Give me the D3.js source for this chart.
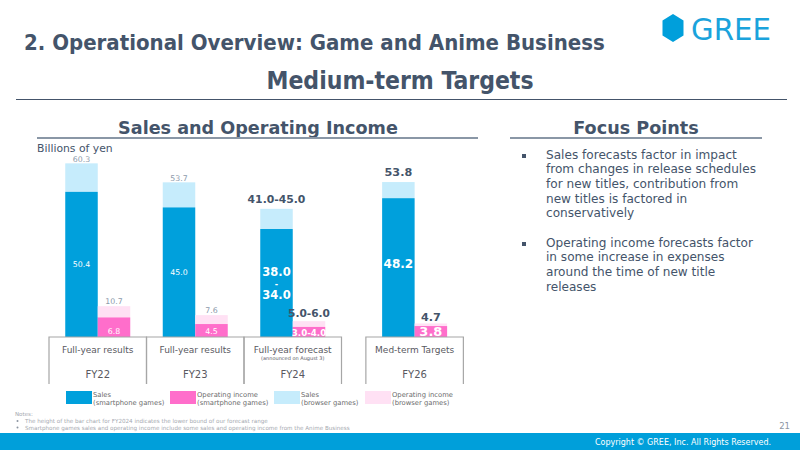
<!DOCTYPE html>
<html>
<head>
<meta charset="utf-8">
<script src="https://cdn.jsdelivr.net/npm/d3@7"></script>
<style>
  body { margin: 0; background: #fff; }
  svg { display: block; font-family: "DejaVu Sans", Verdana, sans-serif; }
</style>
</head>
<body>
<svg id="chart" width="800" height="450"></svg>
<script>
// chart data
var categories = ['FY22', 'FY23', 'FY24', 'FY26'];
var periodLabels = ['Full-year results', 'Full-year results', 'Full-year forecast', 'Med-term Targets'];
var periodNotes = ['', '', '(announced on August 3)', ''];
var salesPhone = [50.4, 45.0, 37.5, 48.2];
var salesBrowser = [9.9, 8.7, 7.0, 5.6];
var incomePhone = [6.8, 4.5, 3.5, 3.8];
var incomeBrowser = [3.9, 3.1, 2.0, 0.9];
var salesTotalLabels = ['60.3', '53.7', '41.0-45.0', '53.8'];
var salesPhoneLabels = [['50.4'], ['45.0'], ['38.0', '-', '34.0'], ['48.2']];
var incomeTotalLabels = ['10.7', '7.6', '5.0-6.0', '4.7'];
var incomePhoneLabels = ['6.8', '4.5', '3.0-4.0', '3.8'];
var legendItems = [
    ['Sales', '(smartphone games)'],
    ['Operating income', '(smartphone games)'],
    ['Sales', '(browser games)'],
    ['Operating income', '(browser games)']
];
var focusPoints = [
    ['Sales forecasts factor in impact', 'from changes in release schedules', 'for new titles, contribution from', 'new titles is factored in', 'conservatively'],
    ['Operating income forecasts factor', 'in some  increase in expenses', 'around the time of new title', 'releases']
];
var notes = [
    'The height of the bar chart for FY2024 indicates the lower bound of our forecast range',
    'Smartphone games sales and operating income include some sales and operating income from the Anime Business'
];

var colors = {
    salesPhone: '#00a0dc',
    salesBrowser: '#c6ecfc',
    incomePhone: '#ff6ecb',
    incomeBrowser: '#ffe1f4',
    dark: '#44546a',
    grey: '#8c9aab'
};

var svg = d3.select('#chart');
var baseY = 337;
var cellW = 97.5; // width of each period cell
var barW = 32.5;

// the medium-term column is set a bit apart from the first three
function slot(i) { return i < 3 ? i : i + 0.25; }

var x = d3.scaleLinear().domain([0, 1]).range([49, 49 + cellW]);
var y = d3.scaleLinear().domain([0, 60]).range([baseY, baseY - 172.8]);

// ---- headings ----
svg.append('text')
    .attr('x', 24).attr('y', 50)
    .attr('font-family', '"DejaVu Sans Condensed", "Liberation Sans Narrow", sans-serif')
    .attr('font-stretch', 'condensed')
    .attr('font-weight', 'bold').attr('font-size', 22)
    .attr('fill', colors.dark)
    .text('2. Operational Overview: Game and Anime Business');

svg.append('text')
    .attr('x', 400).attr('y', 89)
    .attr('text-anchor', 'middle')
    .attr('font-family', '"DejaVu Sans Condensed", "Liberation Sans Narrow", sans-serif')
    .attr('font-stretch', 'condensed')
    .attr('font-weight', 'bold').attr('font-size', 24.5)
    .attr('fill', colors.dark)
    .text('Medium-term Targets');

svg.append('line')
    .attr('x1', 16).attr('x2', 787).attr('y1', 99.5).attr('y2', 99.5)
    .attr('stroke', colors.dark).attr('stroke-width', 1);

// logo
var hx = 673, hy = 28;
svg.append('polygon')
    .attr('points', [[hx, hy - 14], [hx + 10.5, hy - 7.5], [hx + 10.5, hy + 7.5], [hx, hy + 14], [hx - 10.5, hy + 7.5], [hx - 10.5, hy - 7.5]].join(' '))
    .attr('fill', '#009fdb');
svg.append('text')
    .attr('x', 691).attr('y', 40)
    .attr('font-size', 30)
    .attr('textLength', 80).attr('lengthAdjust', 'spacingAndGlyphs')
    .attr('fill', '#1aa3dc')
    .text('GREE');

// section headers
function sectionHead(cx, x1, x2, label) {
    svg.append('text')
        .attr('x', cx).attr('y', 134)
        .attr('text-anchor', 'middle')
        .attr('font-weight', 'bold').attr('font-size', 17.6)
        .attr('fill', colors.dark)
        .text(label);
    svg.append('line')
        .attr('x1', x1).attr('x2', x2).attr('y1', 138).attr('y2', 138)
        .attr('stroke', '#8a97a6').attr('stroke-width', 2);
}
sectionHead(258, 37, 478, 'Sales and Operating Income');
sectionHead(636, 510, 762, 'Focus Points');

svg.append('text')
    .attr('x', 37).attr('y', 152)
    .attr('font-size', 10.8)
    .attr('fill', colors.dark)
    .text('Billions of yen');

// ---- bars ----
var data = categories.map(function (c, i) {
    return {
        cat: c, i: i,
        cx: x(slot(i)) + cellW / 2,
        sp: salesPhone[i], sb: salesBrowser[i],
        ip: incomePhone[i], ib: incomeBrowser[i]
    };
});

var g = svg.append('g');
var groups = g.selectAll('g.bar').data(data).enter().append('g').attr('class', 'bar');

groups.append('rect')
    .attr('x', function (d) { return d.cx - barW; })
    .attr('width', barW)
    .attr('y', function (d) { return y(d.sp + d.sb); })
    .attr('height', function (d) { return y(d.sp) - y(d.sp + d.sb); })
    .attr('fill', colors.salesBrowser);
groups.append('rect')
    .attr('x', function (d) { return d.cx - barW; })
    .attr('width', barW)
    .attr('y', function (d) { return y(d.sp); })
    .attr('height', function (d) { return baseY - y(d.sp); })
    .attr('fill', colors.salesPhone);
groups.append('rect')
    .attr('x', function (d) { return d.cx; })
    .attr('width', barW)
    .attr('y', function (d) { return y(d.ip + d.ib); })
    .attr('height', function (d) { return y(d.ip) - y(d.ip + d.ib); })
    .attr('fill', colors.incomeBrowser);
groups.append('rect')
    .attr('x', function (d) { return d.cx; })
    .attr('width', barW)
    .attr('y', function (d) { return y(d.ip); })
    .attr('height', function (d) { return baseY - y(d.ip); })
    .attr('fill', colors.incomePhone);

// ---- value labels ----
// results years get small grey / white labels, forecast & target get bold ones
function isBold(d) { return d.i >= 2; }

var salesTopSize = [7.8, 7.8, 10.8, 11.2];
var salesTopGap = [1.5, 1.5, 6, 6];
groups.append('text')
    .attr('x', function (d) { return d.cx - barW / 2; })
    .attr('y', function (d) { return y(d.sp + d.sb) - salesTopGap[d.i]; })
    .attr('text-anchor', 'middle')
    .attr('font-size', function (d) { return salesTopSize[d.i]; })
    .attr('font-weight', function (d) { return isBold(d) ? 'bold' : 'normal'; })
    .attr('fill', function (d) { return isBold(d) ? colors.dark : colors.grey; })
    .text(function (d) { return salesTotalLabels[d.i]; });

groups.each(function (d) {
    var lines = salesPhoneLabels[d.i];
    var bold = isBold(d);
    var fs = bold ? (lines.length > 1 ? 11.5 : 12) : 7.8;
    var step = 11.5;
    var mid = (y(d.sp) + baseY) / 2 - (d.i === 3 ? 4 : 0);
    var t = d3.select(this).append('text')
        .attr('text-anchor', 'middle')
        .attr('font-weight', bold ? 'bold' : 'normal')
        .attr('fill', '#fff');
    lines.forEach(function (ln, k) {
        t.append('tspan')
            .attr('x', d.cx - barW / 2)
            .attr('y', mid + (k - (lines.length - 1) / 2) * step + fs * 0.36)
            .attr('font-size', ln === '-' ? 8 : fs)
            .text(ln);
    });
});

var incomeTopSize = [7.8, 7.8, 10.6, 11.2];
var incomeTopGap = [1.7, 1.7, 4, 2];
groups.append('text')
    .attr('x', function (d) { return d.cx + barW / 2; })
    .attr('y', function (d) { return y(d.ip + d.ib) - incomeTopGap[d.i]; })
    .attr('text-anchor', 'middle')
    .attr('font-size', function (d) { return incomeTopSize[d.i]; })
    .attr('font-weight', function (d) { return isBold(d) ? 'bold' : 'normal'; })
    .attr('fill', function (d) { return isBold(d) ? colors.dark : colors.grey; })
    .text(function (d) { return incomeTotalLabels[d.i]; });

var incomeInSize = [7.8, 7.8, 8.7, 13];
groups.append('text')
    .attr('x', function (d) { return d.cx + barW / 2; })
    .attr('y', function (d) { return isBold(d) ? baseY - 1 : baseY - 3; })
    .attr('text-anchor', 'middle')
    .attr('font-size', function (d) { return incomeInSize[d.i]; })
    .attr('font-weight', function (d) { return isBold(d) ? 'bold' : 'normal'; })
    .attr('fill', '#fff')
    .text(function (d) { return incomePhoneLabels[d.i]; });

// ---- period cells under the bars ----
var boxColor = '#a6a6a6';
var cells = g.selectAll('g.cell').data(data).enter().append('g').attr('class', 'cell');
cells.append('path')
    .attr('d', function (d) {
        var l = x(slot(d.i)), r = l + cellW;
        return 'M' + l + ',384V' + baseY + 'H' + r + 'V384';
    })
    .attr('fill', 'none').attr('stroke', boxColor).attr('stroke-width', 1.2);
cells.append('text')
    .attr('x', function (d) { return d.cx; })
    .attr('y', 353)
    .attr('text-anchor', 'middle')
    .attr('font-size', 9)
    .attr('fill', '#59595f')
    .text(function (d) { return periodLabels[d.i]; });
cells.append('text')
    .attr('x', function (d) { return d.cx; })
    .attr('y', 360)
    .attr('text-anchor', 'middle')
    .attr('font-size', 5)
    .attr('fill', '#59595f')
    .text(function (d) { return periodNotes[d.i]; });
cells.append('text')
    .attr('x', function (d) { return d.cx; })
    .attr('y', 378)
    .attr('text-anchor', 'middle')
    .attr('font-size', 10)
    .attr('fill', '#59595f')
    .text(function (d) { return d.cat; });

// ---- legend ----
var legendColors = [colors.salesPhone, colors.incomePhone, colors.salesBrowser, colors.incomeBrowser];
var legendX = [66, 170, 274, 365];
var lg = svg.selectAll('g.legend').data(legendItems).enter().append('g')
    .attr('class', 'legend')
    .attr('transform', function (d, i) { return 'translate(' + legendX[i] + ',391)'; });
lg.append('rect').attr('width', 26).attr('height', 13)
    .attr('fill', function (d, i) { return legendColors[i]; });
lg.append('text').attr('x', 27).attr('y', 6).attr('font-size', 6.8).attr('fill', '#6b6b6b')
    .text(function (d) { return d[0]; });
lg.append('text').attr('x', 27).attr('y', 14).attr('font-size', 6.8).attr('fill', '#6b6b6b')
    .text(function (d) { return d[1]; });

// ---- notes ----
svg.append('text').attr('x', 15).attr('y', 416).attr('font-size', 5.5).attr('fill', '#a5a9b0').text('Notes:');
notes.forEach(function (n, i) {
    svg.append('circle').attr('cx', 17.5).attr('cy', 421 + i * 6.5).attr('r', 1).attr('fill', '#8a93a0');
    svg.append('text').attr('x', 25).attr('y', 423 + i * 6.5).attr('font-size', 5.6).attr('fill', '#a5a9b0').text(n);
});

// ---- focus points ----
var lineH = 14.7;
var fpY = [158.5, 246.5];
focusPoints.forEach(function (lines, k) {
    svg.append('rect').attr('x', 522).attr('y', fpY[k] - 4.5).attr('width', 4).attr('height', 4).attr('fill', colors.dark);
    lines.forEach(function (ln, j) {
        svg.append('text')
            .attr('x', 546).attr('y', fpY[k] + j * lineH)
            .attr('font-size', 12.1)
            .attr('fill', colors.dark)
            .text(ln);
    });
});

// ---- footer ----
svg.append('text').attr('x', 790).attr('y', 429).attr('text-anchor', 'end')
    .attr('font-size', 8.5).attr('fill', '#8c96a3').text('21');
svg.append('rect').attr('x', 0).attr('y', 433).attr('width', 800).attr('height', 17).attr('fill', '#009fda');
svg.append('text').attr('x', 771).attr('y', 445).attr('text-anchor', 'end')
    .attr('font-size', 8).attr('fill', '#fff').text('Copyright \u00a9 GREE, Inc. All Rights Reserved.');
</script>
</body>
</html>
